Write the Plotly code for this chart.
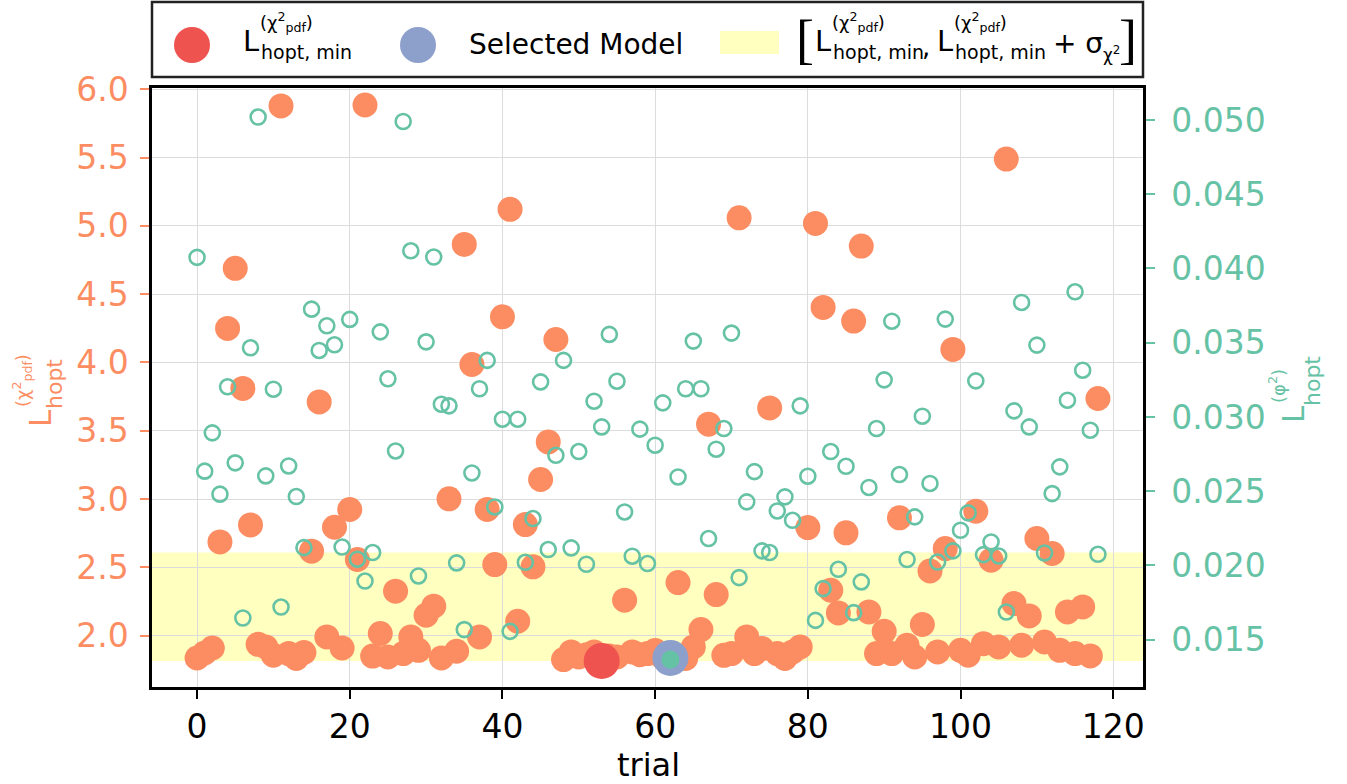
import plotly.graph_objects as go

# ---------------- data ----------------
trials = list(range(119))

chi2_pdf = [
    1.836, 1.873, 1.909, 2.686, 4.249, 4.689, 3.810, 2.810, 1.936, 1.917,
    1.856, 5.878, 1.868, 1.832, 1.876, 2.618, 3.711, 1.990, 2.793, 1.909,
    2.923, 2.557, 5.885, 1.850, 2.015, 1.843, 2.325, 1.868, 1.990, 1.892,
    2.149, 2.215, 1.836, 3.001, 1.885, 4.864, 3.985, 1.990, 2.923, 2.520,
    4.334, 5.121, 2.105, 2.813, 2.503, 3.143, 3.418, 4.168, 1.824, 1.880,
    1.843, 1.860, 1.880, 1.814, 1.850, 1.843, 2.259, 1.880, 1.860, 1.868,
    1.890, 1.840, 1.836, 2.388, 1.832, 1.917, 2.044, 3.548, 2.300, 1.855,
    1.868, 5.059, 1.990, 1.868, 1.905, 3.667, 1.868, 1.832, 1.880, 1.917,
    2.791, 5.018, 4.403, 2.332, 2.166, 2.752, 4.303, 4.852, 2.173, 1.868,
    2.031, 1.868, 2.862, 1.929, 1.843, 2.081, 2.473, 1.880, 2.637, 4.095,
    1.892, 1.856, 2.911, 1.941, 2.552, 1.917, 5.489, 2.234, 1.929, 2.144,
    2.711, 1.953, 2.601, 1.892, 2.173, 1.868, 2.210, 1.851, 3.736,
]

phi2 = [
    0.04075, 0.02635, 0.02893, 0.02480, 0.03203, 0.02691, 0.01646, 0.03466, 0.05020, 0.02603,
    0.03187, 0.01720, 0.02670, 0.02464, 0.02120, 0.03726, 0.03448, 0.03614, 0.03486, 0.02124,
    0.03657, 0.02042, 0.01895, 0.02087, 0.03573, 0.03257, 0.02771, 0.04990, 0.04119, 0.01929,
    0.03506, 0.04077, 0.03086, 0.03075, 0.02017, 0.01568, 0.02623, 0.03190, 0.03381, 0.02394,
    0.02985, 0.01556, 0.02985, 0.02021, 0.02316, 0.03236, 0.02107, 0.02742, 0.03381, 0.02118,
    0.02767, 0.02008, 0.03106, 0.02933, 0.03556, 0.03241, 0.02360, 0.02062, 0.02918, 0.02013,
    0.02810, 0.03095, 0.01366, 0.02596, 0.03190, 0.03511, 0.03190, 0.02181, 0.02783, 0.02922,
    0.03565, 0.01918, 0.02428, 0.02632, 0.02098, 0.02087, 0.02367, 0.02462, 0.02304, 0.03075,
    0.02601, 0.01630, 0.01844, 0.02767, 0.01974, 0.02668, 0.01682, 0.01889, 0.02525, 0.02922,
    0.03250, 0.03645, 0.02612, 0.02040, 0.02327, 0.03005, 0.02552, 0.02023, 0.03659, 0.02098,
    0.02237, 0.02354, 0.03243, 0.02073, 0.02158, 0.02064, 0.01686, 0.03041, 0.03771, 0.02933,
    0.03484, 0.02084, 0.02484, 0.02664, 0.03113, 0.03843, 0.03315, 0.02911, 0.02075,
]

sigma_chi2 = 0.794
selected_trial = 62

x_ticks = [0, 20, 40, 60, 80, 100, 120]
left_ticks = [2.0, 2.5, 3.0, 3.5, 4.0, 4.5, 5.0, 5.5, 6.0]
left_tick_text = ["2.0", "2.5", "3.0", "3.5", "4.0", "4.5", "5.0", "5.5", "6.0"]
right_ticks = [0.015, 0.020, 0.025, 0.030, 0.035, 0.040, 0.045, 0.050]
right_tick_text = ["0.015", "0.020", "0.025", "0.030", "0.035", "0.040", "0.045", "0.050"]

# ---------------- styling ----------------
ORANGE = "#FC8D62"
GREEN = "#66C2A5"
BLUE = "#8DA0CB"
RED = "#EF5350"
BAND = "#FFFFC0"
GRID = "#DCDCDC"
FONT = "DejaVu Sans"

W, H = 1347, 784
L_M, R_M, T_M, B_M = 152, 204, 88, 97
PW, PH = W - L_M - R_M, H - T_M - B_M


def px(x):
    return (x - L_M) / PW


def py(y):
    return (H - B_M - y) / PH


best_idx = min(range(len(chi2_pdf)), key=lambda i: chi2_pdf[i])
chi2_min = chi2_pdf[best_idx]

fig = go.Figure()

fig.add_trace(go.Scatter(
    x=trials, y=chi2_pdf, mode="markers",
    marker=dict(size=25, color=ORANGE, line=dict(width=0)),
    yaxis="y", showlegend=False, hoverinfo="skip"))

fig.add_trace(go.Scatter(
    x=[trials[best_idx]], y=[chi2_min], mode="markers",
    marker=dict(size=36, color=RED, line=dict(width=0)),
    yaxis="y", showlegend=False))

fig.add_trace(go.Scatter(
    x=[selected_trial], y=[chi2_pdf[selected_trial]], mode="markers",
    marker=dict(size=36, color=BLUE, line=dict(width=0)),
    yaxis="y", showlegend=False))

fig.add_trace(go.Scatter(
    x=trials, y=phi2, mode="markers",
    marker=dict(symbol="circle-open", size=15, color=GREEN,
                line=dict(width=2.6, color=GREEN)),
    yaxis="y2", showlegend=False))

fig.add_trace(go.Scatter(
    x=[selected_trial], y=[phi2[selected_trial]], mode="markers",
    marker=dict(size=18, color=GREEN, line=dict(width=0)),
    yaxis="y2", showlegend=False))

shapes = [
    dict(type="rect", xref="paper", yref="y", x0=0, x1=1,
         y0=chi2_min, y1=chi2_min + sigma_chi2,
         fillcolor=BAND, line=dict(width=0), layer="below"),
    # legend frame
    dict(type="rect", xref="paper", yref="paper",
         x0=px(152), x1=px(1143), y0=py(77), y1=py(2),
         fillcolor="white", line=dict(color="#222222", width=2.5)),
    dict(type="circle", xref="paper", yref="paper",
         x0=px(174), x1=px(210), y0=py(63), y1=py(27),
         fillcolor=RED, line=dict(width=0)),
    dict(type="circle", xref="paper", yref="paper",
         x0=px(400), x1=px(436), y0=py(63), y1=py(27),
         fillcolor=BLUE, line=dict(width=0)),
    dict(type="rect", xref="paper", yref="paper",
         x0=px(720), x1=px(779), y0=py(54), y1=py(31),
         fillcolor=BAND, line=dict(width=0)),
]

ann = []


def txt(s, x, y, size, color="black", xanchor="left", angle=0, family=FONT):
    ann.append(dict(text=s, x=px(x), y=py(y), xref="paper", yref="paper",
                    xanchor=xanchor, yanchor="middle", showarrow=False,
                    textangle=angle, font=dict(family=family, size=size, color=color)))


SUP = "(χ<sup>2</sup><sub>pdf</sub>)"
# legend entries
txt("L", 241, 41, 29)
txt(SUP, 258, 22, 18)
txt("hopt, min", 259, 52, 19)
txt("Selected Model", 467, 44, 28)
txt("[", 794, 40, 54, family="Liberation Serif")
txt("L", 813, 41, 29)
txt(SUP, 830, 22, 18)
txt("hopt, min", 831, 52, 19)
txt(",", 920, 47, 26)
txt("L", 935, 41, 29)
txt(SUP, 952, 22, 18)
txt("hopt, min", 953, 52, 19)
txt("+ σ", 1051, 43, 28)
txt("χ<sup>2</sup>", 1101, 54, 17)
txt("]", 1117, 40, 54, family="Liberation Serif")

# axis titles (rotated)
txt("L", 40, 418, 31, ORANGE, "center", -90)
txt("hopt", 54, 384, 22, ORANGE, "center", -90)
txt(SUP, 22, 381, 18, ORANGE, "center", -90)

txt("L", 1293, 414, 31, GREEN, "center", -90)
txt("hopt", 1312, 381, 22, GREEN, "center", -90)
txt("(φ<sup>2</sup>)", 1277, 386, 18, GREEN, "center", -90)

txt("trial", 648, 765, 32, "black", "center")

fig.update_layout(
    width=W, height=H,
    margin=dict(l=L_M, r=R_M, t=T_M, b=B_M, pad=0, autoexpand=False),
    plot_bgcolor="white", paper_bgcolor="white",
    font=dict(family=FONT),
    showlegend=False,
    shapes=shapes,
    annotations=ann,
    xaxis=dict(range=[-5.9, 123.9], tickvals=x_ticks, ticks="outside",
               ticklen=9, tickwidth=2, tickcolor="black",
               tickfont=dict(size=33, color="black", family=FONT),
               showgrid=True, gridcolor=GRID, gridwidth=1,
               showline=True, linecolor="black", linewidth=2.5, mirror=True,
               zeroline=False, automargin=False, ticklabelstandoff=0),
    yaxis=dict(range=[1.6234, 6.0095], tickvals=left_ticks, ticktext=left_tick_text,
               ticks="outside", ticklen=9, tickwidth=2, tickcolor=ORANGE,
               tickfont=dict(size=33, color=ORANGE, family=FONT),
               showgrid=True, gridcolor=GRID, gridwidth=1,
               showline=True, linecolor="black", linewidth=2.5, mirror=True,
               zeroline=False, automargin=False, ticklabelstandoff=5),
    yaxis2=dict(range=[0.011813, 0.052156], tickvals=right_ticks, ticktext=right_tick_text,
                overlaying="y", side="right",
                ticks="outside", ticklen=9, tickwidth=2, tickcolor=GREEN,
                tickfont=dict(size=33, color=GREEN, family=FONT),
                showgrid=False, showline=True, linecolor="black", linewidth=2.5,
                zeroline=False, automargin=False, ticklabelstandoff=10),
)

fig.write_html("out.html")
